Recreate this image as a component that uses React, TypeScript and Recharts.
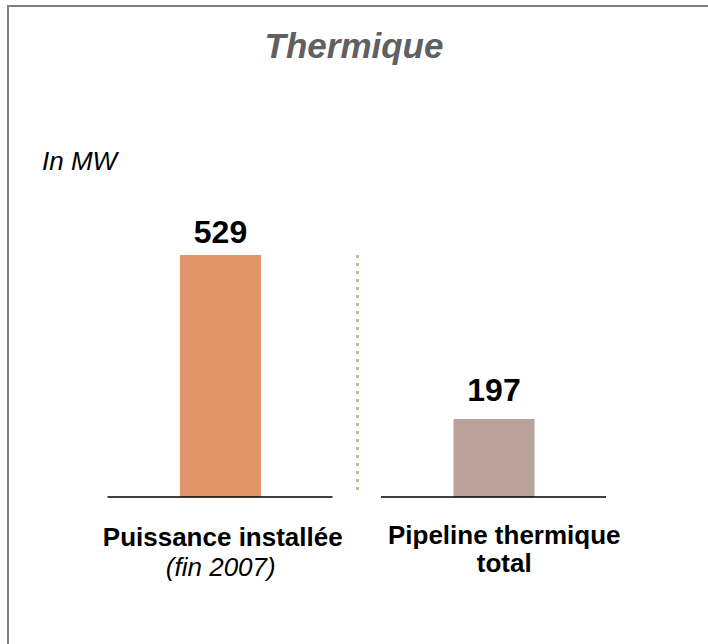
import React from "react";
import { BarChart, Bar, XAxis, YAxis, Cell, LabelList } from "recharts";

const categories = ["Puissance installée", "Pipeline thermique"];
const subLabels = ["(fin 2007)", "total"];
const values = [529, 197];
const barColors = ["#E3956A", "#BAA19A"];
const labelOffsets = [12, 18];
const tickShift = [2, 10];
const title = "Thermique";
const unitLabel = "In MW";

const data = categories.map((c, i) => ({ name: c, sub: subLabels[i], value: values[i] }));

const FONT = "'Liberation Sans', Arial, sans-serif";

const BarShape = (props: any) => {
  const { x, y, width, height, fill, index } = props;
  const cx = x + width / 2;
  const base = y + height;
  return (
    <g>
      <rect x={x} y={y} width={width} height={height} fill={fill} />
      <line x1={cx - 113} x2={cx + 112} y1={base} y2={base} stroke="#000" strokeWidth={1.5} />
      {index === 0 && (
        <line
          x1={cx + 137}
          x2={cx + 137}
          y1={y}
          y2={base - 7}
          stroke="#B9C192"
          strokeWidth={3}
          strokeDasharray="3 5"
        />
      )}
    </g>
  );
};

const Tick = (props: any) => {
  const { x, y, index } = props;
  const d = data[index];
  if (!d) return null;
  const italicSub = d.sub.startsWith("(");
  const tx = x + tickShift[index];
  return (
    <g>
      <text x={tx} y={y + (italicSub ? 49 : 47)} textAnchor="middle" fontFamily={FONT} fontSize={26} fontWeight="bold" fill="#000">
        {d.name}
      </text>
      <text
        x={italicSub ? x : tx}
        y={y + (italicSub ? 79 : 75)}
        textAnchor="middle"
        fontFamily={FONT}
        fontSize={26}
        fontWeight={italicSub ? "normal" : "bold"}
        fontStyle={italicSub ? "italic" : "normal"}
        fill="#000"
      >
        {d.sub}
      </text>
    </g>
  );
};

const ValueLabel = (props: any) => {
  const { x, y, width, value, index } = props;
  return (
    <text
      x={x + width / 2}
      y={y - labelOffsets[index]}
      textAnchor="middle"
      fontFamily={FONT}
      fontSize={32}
      fontWeight="bold"
      fill="#000"
    >
      {value}
    </text>
  );
};

export default function App() {
  return (
    <div style={{ position: "absolute", left: 0, top: 0, width: 708, height: 644, background: "#fff" }}>
      <div
        style={{
          position: "absolute",
          left: 7,
          top: 5,
          width: 701,
          height: 639,
          borderTop: "2px solid #7F7F7F",
          borderLeft: "2px solid #7F7F7F",
        }}
      />
      <div
        style={{
          position: "absolute",
          left: 0,
          width: 708,
          top: 26,
          textAlign: "center",
          fontFamily: FONT,
          fontSize: 35,
          fontWeight: "bold",
          fontStyle: "italic",
          color: "#606060",
        }}
      >
        {title}
      </div>
      <div
        style={{
          position: "absolute",
          left: 42,
          top: 146,
          fontFamily: FONT,
          fontSize: 26,
          fontStyle: "italic",
          color: "#000",
        }}
      >
        {unitLabel}
      </div>
      <div style={{ position: "absolute", left: 0, top: 0 }}>
        <BarChart width={708} height={644} data={data} margin={{ top: 255, bottom: 87, left: 84, right: 77 }}>
          <XAxis
            dataKey="name"
            axisLine={false}
            tickLine={false}
            tickSize={0}
            tickMargin={0}
            height={60}
            tick={<Tick />}
            interval={0}
          />
          <YAxis hide domain={[39, 529]} />
          <Bar dataKey="value" barSize={81} isAnimationActive={false} shape={<BarShape />}>
            {data.map((d, i) => (
              <Cell key={d.name} fill={barColors[i]} />
            ))}
            <LabelList dataKey="value" content={<ValueLabel />} />
          </Bar>
        </BarChart>
      </div>
    </div>
  );
}
